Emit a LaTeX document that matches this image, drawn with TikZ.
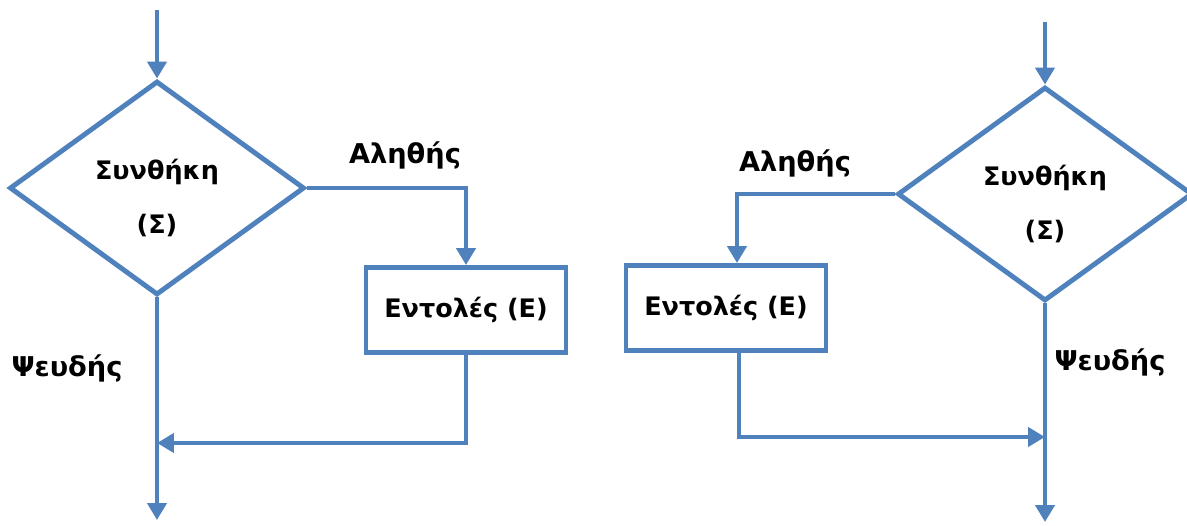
\documentclass[tikz,border=0pt]{standalone}
\usepackage{fontspec}
\setmainfont{DejaVu Sans}
\usepackage{xcolor}
\definecolor{flowblue}{HTML}{4F81BD}
\usepackage{tikz}
\usetikzlibrary{positioning,arrows.meta,calc,shapes.geometric}

\tikzset{
  cond/.style={diamond, draw=flowblue, line width=2.8pt, minimum width=5.9cm,
               minimum height=4.28cm, inner sep=0pt},
  condtext/.style={align=center, font=\bfseries\fontsize{14.5}{17}\selectfont},
  cmd/.style={rectangle, draw=flowblue, line width=2.8pt, minimum width=4cm,
              minimum height=1.7cm, font=\bfseries\fontsize{14.5}{17}\selectfont},
  lbl/.style={font=\bfseries\fontsize{15.5}{18}\selectfont},
  flow/.style={draw=flowblue, line width=2.8pt, -{Triangle[length=0.34cm,width=0.38cm]}}
}

\begin{document}
\begin{tikzpicture}[x=0.02cm, y=-0.02cm]
    \useasboundingbox (0,0) rectangle (1187,525);
    % left: if-then
    \node[cond] (c1) at (157,188) {};
    \node[condtext] (s1) at ($(c1)+(0,10)$) {Συνθήκη\\[14pt](Σ)};
    \node[cmd] (e1) at (466,310) {Εντολές (Ε)};
    \coordinate (in1) at (157,10);
    \coordinate (out1) at (157,520);
    \coordinate (j1) at (157,443);
    \node[lbl] (t1) at (405,155) {Αληθής};
    \node[lbl] (f1) at (67,368) {Ψευδής};
    \draw[flow] (in1) -- (c1.north);
    \draw[flow] (c1.east) -| (e1.north);
    \draw[flow] (e1.south) |- (j1);
    \draw[flow] (c1.south) -- (out1);

    % right: mirrored
    \node[cond] (c2) at (1045,194) {};
    \node[condtext] (s2) at ($(c2)+(0,10)$) {Συνθήκη\\[14pt](Σ)};
    \node[cmd] (e2) at (726,308) {Εντολές (Ε)};
    \coordinate (in2) at (1045,22);
    \coordinate (out2) at (1045,522);
    \coordinate (j2) at (1045,437);
    \node[lbl] (t2) at (795,163) {Αληθής};
    \node[lbl] (f2) at (1110,362) {Ψευδής};
    \draw[flow] (in2) -- (c2.north);
    \draw[flow] (c2.west) -| ($(e2.north)+(11,0)$);
    \draw[flow] ($(e2.south)+(13,0)$) |- (j2);
    \draw[flow] (c2.south) -- (out2);
  \end{tikzpicture}
\end{document}
